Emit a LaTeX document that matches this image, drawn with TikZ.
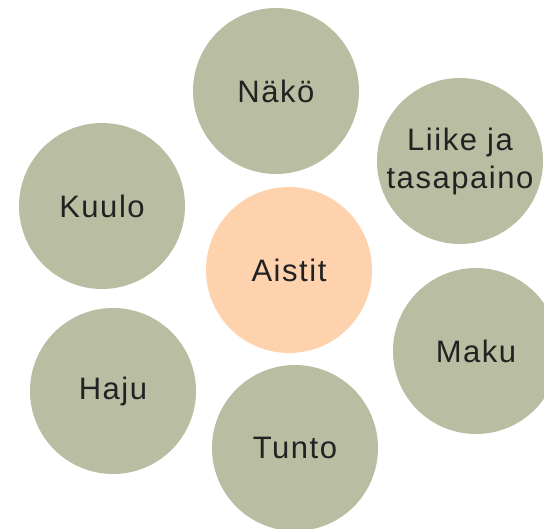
\documentclass[tikz,border=0pt]{standalone}
\usepackage{fontspec}
\setmainfont{Liberation Sans}[LetterSpace=5]
\definecolor{sage}{HTML}{B9BDA2}
\definecolor{peach}{HTML}{FDD2AD}
\definecolor{ink}{HTML}{222222}
\tikzset{
  sense/.style={circle, fill=sage, minimum size=166pt, inner sep=0pt,
    text=ink, font=\fontsize{31}{38}\selectfont, align=center},
  hub/.style={sense, fill=peach}
}
\begin{document}
\begin{tikzpicture}[x=1pt, y=-1pt]
        \useasboundingbox (0,0) rectangle (544,529);
        % centres of the circles
        \coordinate (nakoc)   at (276, 91);
        \coordinate (liikec)  at (460,161);
        \coordinate (kuuloc)  at (102,206);
        \coordinate (aistitc) at (289,270);
        \coordinate (makuc)   at (476,351);
        \coordinate (hajuc)   at (113,391);
        \coordinate (tuntoc)  at (295,448);
        % drawing the circles
        \node[sense] (nako)   at (nakoc)   {Näkö};
        \node[sense] (liike)  at (liikec)  {Liike ja\\tasapaino};
        \node[sense] (kuulo)  at (kuuloc)  {Kuulo};
        \node[hub]   (aistit) at (aistitc) {Aistit};
        \node[sense] (maku)   at (makuc)   {Maku};
        \node[sense] (haju)   at (hajuc)   {Haju};
        \node[sense] (tunto)  at (tuntoc)  {Tunto};
      \end{tikzpicture}
\end{document}
